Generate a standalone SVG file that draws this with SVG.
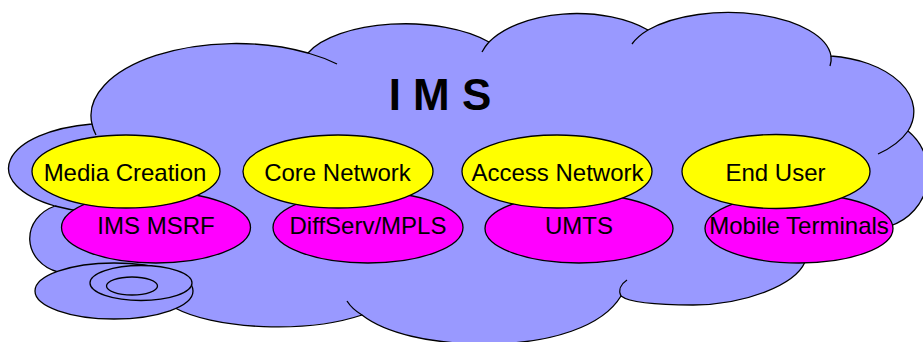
<svg xmlns="http://www.w3.org/2000/svg" width="923" height="342" viewBox="0 0 923 342">
  <style>
    .outline { stroke: #000; stroke-width: 1.3; }
    .cloud { fill: #9999FF; }
    .tail { fill: none; stroke: #000; stroke-width: 1.3; }
    .layer { fill: #FFFF00; }
    .tech { fill: #FF00FF; }
    .label { font-family: "Liberation Sans", Arial, sans-serif; font-size: 24px; fill: #000; text-anchor: middle; }
    .title { font-family: "Liberation Sans", Arial, sans-serif; font-size: 44px; font-weight: bold; fill: #000; text-anchor: middle; }
  </style>

  <!-- IMS cloud: lobes joined into one outline, plus the short inner arcs -->
  <g id="ims-cloud">
    <path class="cloud outline" d="M92,124
      A145 72 0 0 1 308 53
      A104 45 0 0 1 489 42
      A100 55 0 0 1 648 30
      A103 47 0 0 1 831 56
      A94 56 0 0 1 908 131
      A55 55 0 0 1 890 226
      L805,262
      C795,285 745,305 693,305
      C665,305 630,303 621,296
      C603,326 552,344 485,344
      C430,344 385,333 362,315
      A120 40 0 0 1 175 308
      L58,272
      A40 35 0 0 1 55 206
      A102 45 0 0 1 92 124 Z"/>
    <path class="tail" d="M92,124 A145 72 0 0 0 96 135"/>
    <path class="tail" d="M308,53 A145 72 0 0 1 337 64"/>
    <path class="tail" d="M489,42 A100 55 0 0 0 482 52"/>
    <path class="tail" d="M648,30 A103 47 0 0 0 632 44"/>
    <path class="tail" d="M831,56 A103 47 0 0 1 830 66"/>
    <path class="tail" d="M908,131 A94 56 0 0 1 878 154"/>
    <path class="tail" d="M621,296 C618,290 621,284 627,280"/>
    <path class="tail" d="M362,315 Q352,309 347,301"/>
    <path class="tail" d="M55,206 A102 45 0 0 0 85 211.6"/>
    <text class="title" x="440" y="110">I M S</text>
  </g>

  <!-- small disc at the lower left of the cloud -->
  <g id="disc">
    <ellipse class="cloud outline" cx="114" cy="291" rx="79" ry="28"/>
    <ellipse class="cloud outline" cx="141" cy="283" rx="51" ry="17.5"/>
    <ellipse class="cloud outline" cx="132" cy="286" rx="25.5" ry="9"/>
  </g>

  <g id="connectors"/>

  <!-- technology ellipses (lower row) -->
  <g id="ims-msrf">
    <ellipse class="tech outline" cx="156" cy="227.5" rx="94.5" ry="35.5"/>
    <text class="label" x="156" y="234">IMS MSRF</text>
  </g>
  <g id="diffserv-mpls">
    <ellipse class="tech outline" cx="368" cy="227.5" rx="95" ry="35.5"/>
    <text class="label" x="368" y="234">DiffServ/MPLS</text>
  </g>
  <g id="umts">
    <ellipse class="tech outline" cx="579" cy="228.5" rx="94" ry="34.5"/>
    <text class="label" x="579" y="234">UMTS</text>
  </g>
  <g id="mobile-terminals">
    <ellipse class="tech outline" cx="799" cy="228.5" rx="94" ry="34.5"/>
    <text class="label" x="799" y="234">Mobile Terminals</text>
  </g>

  <!-- layer ellipses (upper row) -->
  <g id="media-creation">
    <ellipse class="layer outline" cx="126" cy="171.5" rx="94" ry="36.5"/>
    <text class="label" x="125" y="181">Media Creation</text>
  </g>
  <g id="core-network">
    <ellipse class="layer outline" cx="338" cy="171.5" rx="95" ry="36.5"/>
    <text class="label" x="337.5" y="181">Core Network</text>
  </g>
  <g id="access-network">
    <ellipse class="layer outline" cx="557" cy="171.5" rx="95" ry="36.5"/>
    <text class="label" x="557.5" y="181">Access Network</text>
  </g>
  <g id="end-user">
    <ellipse class="layer outline" cx="776" cy="171.5" rx="94" ry="37"/>
    <text class="label" x="775.5" y="181">End User</text>
  </g>
</svg>
